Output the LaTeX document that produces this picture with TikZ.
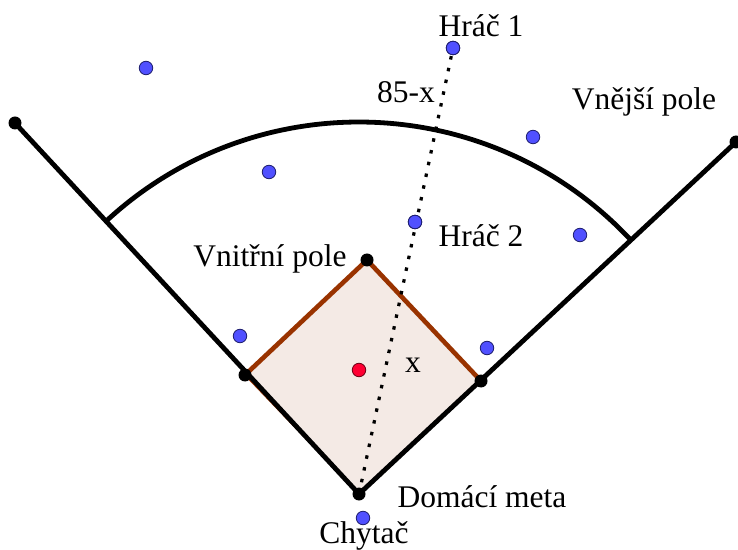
\documentclass[tikz,border=0pt]{standalone}
\usepackage{fontspec}
\setmainfont{Liberation Serif}
\begin{document}
\begin{tikzpicture}[x=1pt,y=1pt,
  lbl/.style={inner sep=0pt, anchor=base, font=\fontsize{31.5}{35}\selectfont},
  bdot/.style={circle, fill=black, inner sep=0pt, minimum size=13pt},
  pdot/.style={circle, fill=pblue, draw=pedge, line width=0.8pt, inner sep=0pt, minimum size=13.5pt},
  rdot/.style={circle, fill=pred, draw=redge, line width=0.8pt, inner sep=0pt, minimum size=13.5pt},
  foul/.style={line width=4.8pt, black},
  brownedge/.style={line width=4.6pt, brownc},
  pathline/.style={line width=3.2pt, dash pattern=on 3.5pt off 8.5pt, black}
]
\definecolor{pblue}{RGB}{80,80,255}
\definecolor{pedge}{RGB}{30,30,110}
\definecolor{pred}{RGB}{255,0,51}
\definecolor{redge}{RGB}{110,0,20}
\definecolor{infield}{RGB}{244,234,229}
\definecolor{brownc}{RGB}{153,51,0}
\useasboundingbox (0,0) rectangle (738,549);

% coordinates (y up)
\coordinate (H) at (359,55);
\coordinate (B3) at (245,174);
\coordinate (B1) at (481,168);
\coordinate (B2) at (367,289);
\coordinate (LE) at (15,426);
\coordinate (RE) at (736,407);

% infield
\fill[infield] (H) -- (B3) -- (B2) -- (B1) -- cycle;
\draw[line width=1.5pt, brownc] (B3) -- (H) -- (B1);
\draw[brownedge, line cap=round] (B3) -- (B2) -- (B1);

% foul lines
\draw[foul] (LE) -- (H) -- (RE);
% outfield arc
\draw[foul] (H) ++(132.84:372) arc[start angle=132.84, end angle=43.03, radius=372];

% players
\node[pdot] (p1) at (453,501) {};
\node[pdot] (p2) at (415,327) {};
\node[pdot] (p3) at (146,481) {};
\node[pdot] (p4) at (269,377) {};
\node[pdot] (p5) at (533,412) {};
\node[pdot] (p6) at (580,314) {};
\node[pdot] (p7) at (240,213) {};
\node[pdot] (p8) at (487,201) {};
\node[pdot] (p9) at (363,31) {};
\node[rdot] (pit) at (359,179) {};

% throw path
\draw[pathline] (H) -- (p1);
\node[pdot] at (p1) {};
\node[pdot] at (p2) {};

% bases
\node[bdot] (nH) at (H) {};
\node[bdot] (n3) at (B3) {};
\node[bdot] (n1) at (B1) {};
\node[bdot] (n2) at (B2) {};
\node[bdot] (nL) at (LE) {};
\node[bdot] (nR) at (RE) {};

% labels
\node[lbl] (t1) at (481,512) {Hráč 1};
\node[lbl] (t2) at (406,446) {85-x};
\node[lbl] (t3) at (644,439) {Vnější pole};
\node[lbl] (t4) at (481,302) {Hráč 2};
\node[lbl] (t5) at (270,282) {Vnitřní pole};
\node[lbl] (t6) at (413,177) {x};
\node[lbl] (t7) at (482,42) {Domácí meta};
\node[lbl] (t8) at (364,6) {Chytač};
\end{tikzpicture}
\end{document}
